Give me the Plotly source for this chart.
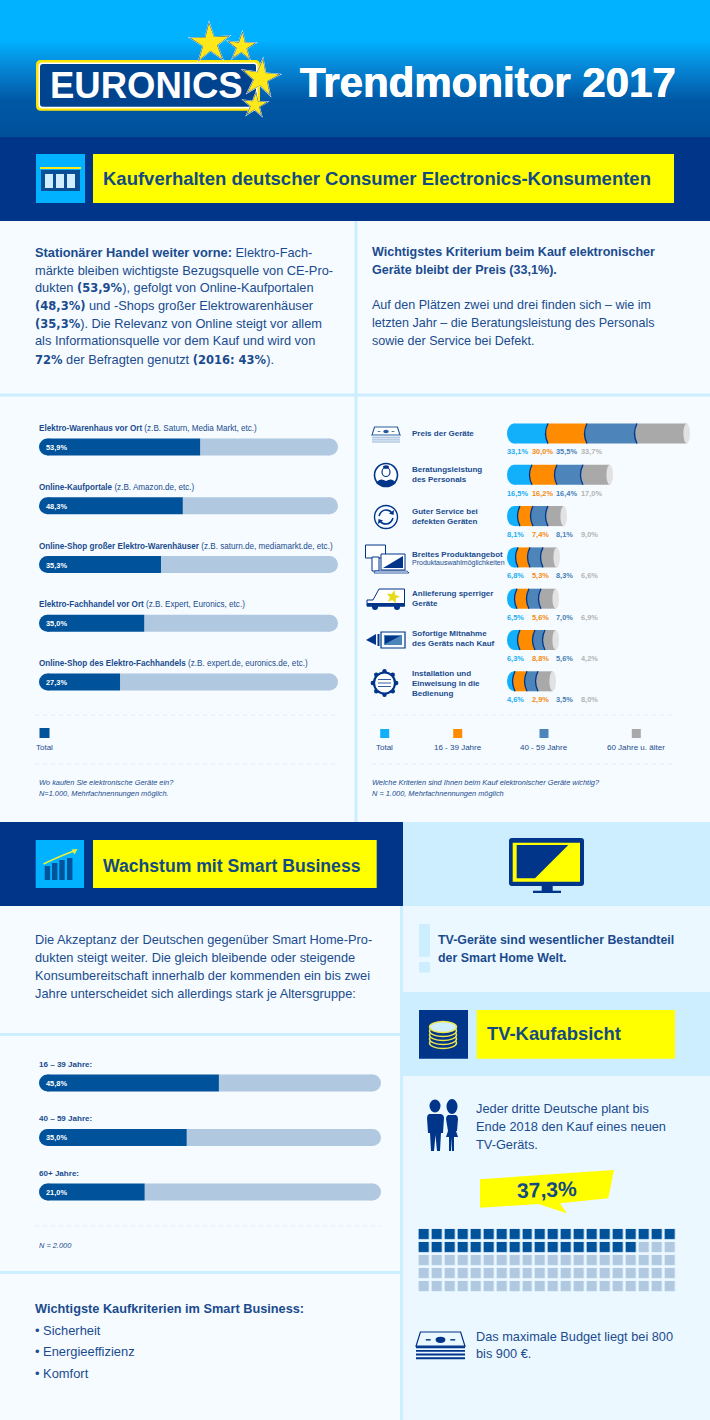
import numpy as np
import plotly.graph_objects as go

# --- dati ---
shop_labels = ["Elektro-Warenhaus vor Ort", "Online-Kaufportale", "Online-Shop großer Elektro-Warenhäuser",
               "Elektro-Fachhandel vor Ort", "Online-Shop des Elektro-Fachhandels"]
shop_notes = ["(z.B. Saturn, Media Markt, etc.)", "(z.B. Amazon.de, etc.)", "(z.B. saturn.de, mediamarkt.de, etc.)",
              "(z.B. Expert, Euronics, etc.)", "(z.B. expert.de, euronics.de, etc.)"]
shop_values = [53.9, 48.3, 35.3, 35.0, 27.3]
# lunghezza disegnata in % della barra (nell'originale non sempre uguale al valore stampato)
shop_drawn = [53.9, 48.1, 40.8, 35.2, 27.1]

crit_total = [33.1, 16.5, 8.1, 6.8, 6.5, 6.3, 4.6]
crit_young = [30.0, 16.2, 7.4, 5.3, 5.6, 8.8, 2.9]
crit_mid = [35.5, 16.4, 8.1, 8.3, 7.0, 5.6, 3.5]
crit_old = [33.7, 17.0, 9.0, 6.6, 6.9, 4.2, 8.0]
# lunghezze disegnate dei segmenti
drawn_total = [41, 25, 13, 11, 10, 13, 8]
drawn_young = [39, 25, 13, 12, 12, 15, 12]
drawn_mid = [50, 26, 15, 13, 12, 10, 11]
drawn_old = [53, 30, 19, 17, 18, 14, 18]
age_legend = ["Total", "16 - 39 Jahre", "40 - 59 Jahre", "60 Jahre u. älter"]

smart_labels = ["16 – 39 Jahre:", "40 – 59 Jahre:", "60+ Jahre:"]
smart_values = [45.8, 35.0, 21.0]
smart_drawn = [52.6, 43.2, 30.9]

waffle_filled = 37
waffle_rows = 5
waffle_cols = 20

# --- colori ---
NAVY = "#00358a"
DEEP = "#00529b"
PALE = "#b0c8e0"
CYAN = "#00b2ff"
YELLOW = "#ffff00"
BODY = "#f5fbff"
LIGHT = "#cceeff"
SOFT = "#ebf8ff"
TEXT = "#1b4b8e"
TITLE = "#134a82"
SEG = ["#12b0fb", "#ff8c00", "#4d85bb", "#a9a9a9"]
SEG_TXT = ["#22aef5", "#f58a10", "#4a7fb5", "#b4b4b4"]
SANS = "Liberation Sans"

shapes = []
notes = []


def rect(x0, y0, x1, y1, fill, layer="below"):
    shapes.append(dict(type="rect", xref="x", yref="y", x0=x0, y0=y0, x1=x1, y1=y1,
                       fillcolor=fill, line_width=0, layer=layer))


def path(d, fill=None, line=None, lw=1):
    shapes.append(dict(type="path", xref="x", yref="y", path=d, layer="below",
                       fillcolor=fill if fill else "rgba(0,0,0,0)",
                       line=dict(color=line if line else "rgba(0,0,0,0)", width=lw if line else 0)))


def ellipse(cx, cy, rx, ry, fill=None, line=None, lw=1):
    shapes.append(dict(type="circle", xref="x", yref="y", x0=cx - rx, x1=cx + rx, y0=cy - ry, y1=cy + ry,
                       layer="below", fillcolor=fill if fill else "rgba(0,0,0,0)",
                       line=dict(color=line if line else "rgba(0,0,0,0)", width=lw if line else 0)))


def dash(x0, x1, y):
    shapes.append(dict(type="line", xref="x", yref="y", x0=x0, x1=x1, y0=y, y1=y, layer="below",
                       line=dict(color="#dfeef6", width=1, dash="4px,4px")))


def txt(x, y, s, size=12.8, color=TEXT, anchor="left", font=SANS, angle=0, shadow=None):
    # le annotazioni a sinistra cadono circa 1px oltre la x chiesta
    f = dict(family=font, size=size, color=color)
    if shadow:
        f["shadow"] = shadow
    notes.append(dict(xref="x", yref="y", x=x - 1 if anchor == "left" else x, y=y, text=s, showarrow=False,
                      xanchor=anchor, yanchor="middle", borderpad=0, textangle=angle, font=f))


def star(cx, cy, r, fill, rot=0.0, inner=0.36):
    pts = []
    for k in range(10):
        a = -np.pi / 2 + rot + k * np.pi / 5
        rr = r if k % 2 == 0 else r * inner
        pts.append(f"{cx + rr * np.cos(a):.1f},{cy + rr * np.sin(a):.1f}")
    path("M" + " L".join(pts) + " Z", fill=fill)


def money(x, y, w, top_fill, stack, line):
    # banconote: trapezio sopra, righe sotto
    h = w * 0.29
    path(f"M{x + w * .09},{y} L{x + w * .91},{y} L{x + w},{y + h} L{x},{y + h} Z", fill=top_fill, line=line, lw=1.2)
    ellipse(x + w / 2, y + h * .55, w * .1, h * .22, fill=line)
    rect(x + w * .2, y + h * .5, x + w * .3, y + h * .6, line)
    rect(x + w * .7, y + h * .5, x + w * .8, y + h * .6, line)
    for k in range(4):
        rect(x, y + h + k * w * .075, x + w, y + h + k * w * .075 + w * .04, stack)


# --- sfondi ---
stops_y = [0, 40, 62, 100, 137]
stops_c = [(0, 178, 255), (0, 178, 255), (6, 142, 222), (0, 88, 165), (0, 80, 155)]
for yy in range(0, 137):
    c = [np.interp(yy, stops_y, [s[i] for s in stops_c]) for i in range(3)]
    rect(0, yy, 710, yy + 1.5, f"rgb({c[0]:.0f},{c[1]:.0f},{c[2]:.0f})")
rect(0, 137, 710, 221, NAVY)
rect(0, 221, 710, 822, BODY)
rect(354.5, 221, 357.5, 822, LIGHT)
rect(0, 393.5, 710, 396.5, LIGHT)
rect(0, 822, 403, 906, NAVY)
rect(403, 822, 710, 906, LIGHT)
rect(0, 906, 400, 1420, BODY)
rect(400, 906, 403, 1420, LIGHT)
rect(403, 906, 710, 992, SOFT)
rect(403, 992, 710, 1076, LIGHT)
rect(403, 1076, 710, 1420, SOFT)
rect(0, 1033, 400, 1036, LIGHT)
rect(0, 1271, 400, 1274, LIGHT)

# --- logo ---
path("M41,60 L255,60 Q260,60 260,65 L260,105.7 Q260,110.7 255,110.7 L41,110.7 Q36,110.7 36,105.7 L36,65 Q36,60 41,60 Z", fill="#ffe600")
path("M42,62.5 L254,62.5 Q257.5,62.5 257.5,66 L257.5,105 Q257.5,108.5 254,108.5 L42,108.5 Q38.5,108.5 38.5,105 L38.5,66 Q38.5,62.5 42,62.5 Z", fill="#ffffff")
path("M43,64 L254,64 Q256,64 256,66 L256,104.7 Q256,106.7 254,106.7 L43,106.7 Q40,106.7 40,104 L40,67 Q40,64 43,64 Z", fill="#00448f")
txt(146.5, 85, "<b>EURONICS</b>", 36.5, "#ffffff", "center")
for cx, cy, r, rot in [(210, 43.3, 23, -0.05), (241.7, 46.7, 17, 0.05), (260.7, 78.3, 22, 0.12), (255, 105, 15, 0.08)]:
    star(cx, cy, r, "#ffffff", rot, .36)
    star(cx, cy, r - 1.5, "#0a3f86", rot, .36)
    star(cx, cy, r - 3, "#ffe81a", rot, .37)
txt(300, 82, "<b>Trendmonitor 2017</b>", 42, "#ffffff", shadow="0.4px 0 0 #fff,-0.4px 0 0 #fff")

# --- sezione 1 ---
rect(36, 154, 85, 203, CYAN)
rect(40, 167, 81, 169, "#ffe81a")
rect(41, 170, 80, 191, "#0a4f96")
for xx in (45, 56, 67):
    rect(xx, 174, xx + 8, 188, "#cfeeff")
rect(93, 154, 674, 203, YELLOW)
txt(103, 178, "<b>Kaufverhalten deutscher Consumer Electronics-Konsumenten</b>", 18.5, TITLE)

big = "<span style=\"font-family:'DejaVu Sans';font-weight:bold;font-size:11.5px\">%s</span>"
left_lines = [
    "<b>Stationärer Handel weiter vorne:</b> Elektro-Fach-",
    "märkte bleiben wichtigste Bezugsquelle von CE-Pro-",
    "dukten " + big % "(53,9%" + "), gefolgt von Online-Kaufportalen",
    big % "(48,3%)" + " und -Shops großer Elektrowarenhäuser",
    big % "(35,3%" + "). Die Relevanz von Online steigt vor allem",
    "als Informationsquelle vor dem Kauf und wird von",
    big % "72%" + " der Befragten genutzt " + big % "(2016: 43%" + ").",
]
for yy, line in zip([252.3, 270, 287.7, 305.7, 323.3, 340.7, 359], left_lines):
    txt(35, yy, line, 12.8)
right_lines = [
    (252.3, "<b>Wichtigstes Kriterium beim Kauf elektronischer</b>"),
    (270, "<b>Geräte bleibt der Preis (33,1%).</b>"),
    (305, "Auf den Plätzen zwei und drei finden sich – wie im"),
    (323, "letzten Jahr – die Beratungsleistung des Personals"),
    (340.7, "sowie der Service bei Defekt."),
]
for yy, line in right_lines:
    txt(372, yy, line, 12.55)

# grafico acquisti: etichette
shop_rows = [447, 506, 565, 623.5, 682]
for yy, lab, note, v in zip(shop_rows, shop_labels, shop_notes, shop_values):
    txt(39, yy - 19, f"<b>{lab}</b> {note}", 8.15)
    txt(45.5, yy, f"<b>{v:.1f}%</b>".replace(".", ","), 7.4, "#ffffff")
dash(35, 338, 715)
dash(35, 338, 764)
rect(39.5, 728, 49.5, 738, DEEP)
txt(44.5, 747.5, "Total", 8, TEXT, "center")
txt(39, 782.5, "<i>Wo kaufen Sie elektronische Geräte ein?</i>", 7.4)
txt(39, 793, "<i>N=1.000, Mehrfachnennungen möglich.</i>", 7.4)

# grafico criteri: etichette
crit_rows = [433.5, 475, 516, 557.7, 599, 640.7, 681.3]
crit_text = [
    (433.3, "Preis der Geräte"), (469.7, "Beratungsleistung"), (479.5, "des Personals"),
    (511, "Guter Service bei"), (521, "defekten Geräten"), (554.3, "Breites Produktangebot"),
    (593.7, "Anlieferung sperriger"), (603.3, "Geräte"), (633.7, "Sofortige Mitnahme"),
    (643.7, "des Geräts nach Kauf"), (673.7, "Installation und"), (683.5, "Einweisung in die"),
    (693.5, "Bedienung"),
]
for yy, line in crit_text:
    txt(411.5, yy, f"<b>{line}</b>", 8)
txt(411.5, 563, "Produktauswahlmöglichkeiten", 7)
pct_x = [506.7, 531.7, 555.7, 580.7]
crit_series = [crit_total, crit_young, crit_mid, crit_old]
for series, xx, col in zip(crit_series, pct_x, SEG_TXT):
    for yy, v in zip(crit_rows, series):
        txt(xx, yy + 18, f"<b>{v:.1f}%</b>".replace(".", ","), 7.4, col)
dash(372, 674, 715)
dash(372, 674, 764)
for cx, lab, col in zip([384.7, 457.7, 544, 636.3], age_legend, SEG):
    rect(cx - 4.5, 729, cx + 4.5, 738, col)
    txt(cx, 747.5, lab, 8, TEXT, "center")
txt(372, 782.5, "<i>Welche Kriterien sind Ihnen beim Kauf elektronischer Geräte wichtig?</i>", 7.4)
txt(372, 793, "<i>N = 1.000, Mehrfachnennungen möglich</i>", 7.4)

# icone criteri
money(372, 427, 28, "#ffffff", "#9db9d8", "#2a5c9c")
ellipse(386, 475, 11.5, 11.5, fill="#ffffff", line=NAVY, lw=1.6)
ellipse(386, 472, 4, 4.5, fill="#ffffff", line=NAVY, lw=1.2)
ellipse(386, 467, 3, 1.8, fill=NAVY)
path("M376,483 Q380,477 386,481 Q392,477 396,483 Q392,486.5 386,486.5 Q380,486.5 376,483 Z", fill=NAVY)
ellipse(386, 517, 11.5, 11.5, line=NAVY, lw=1.4)
path("M379,516 Q381,510 386,510 Q390,510 392,513", line=NAVY, lw=1.6)
path("M393,518 Q391,524 386,524 Q382,524 380,521", line=NAVY, lw=1.6)
path("M394,510 L393.5,515 L389,513.5 Z", fill=NAVY)
path("M378,524 L378.5,519 L383,520.5 Z", fill=NAVY)
rect(366, 545, 386, 558, "#ffffff")
path("M365.5,545 L385.5,545 L385.5,558 L365.5,558 Z", line=NAVY, lw=1)
path("M372,557 L379,557 L379,571 L372,571 Z", fill="#ffffff", line=NAVY, lw=1)
path("M381,554 L405,554 L405,570 L381,570 Z", fill="#ffffff", line=NAVY, lw=1)
path("M383,568 L403,556 L403,568 Z", fill=NAVY)
path("M375,571 L407,571 L409,573 L374,573 Z", fill="#ffffff", line=NAVY, lw=.8)
path("M367,600 L373,600 L379,589 L404.5,589 L404.5,606 L367,606 Z", fill="#ffffff", line=NAVY, lw=1)
rect(367, 603, 405, 606.5, NAVY)
ellipse(375, 607, 3, 3, fill=NAVY)
ellipse(397, 607, 3, 3, fill=NAVY)
star(393, 597, 7, "#e6dc1e", .2, .45)
path("M366,640 L376,634 L376,645 Z", fill=NAVY)
rect(377.5, 634, 379.5, 646, NAVY)
path("M381,632 L405,632 L405,648 L381,648 Z", line=NAVY, lw=1.2)
path("M384,635 L402,635 L402,645 L384,645 Z", fill=SEG[2])
path("M385,644 L400,636 L385,636 Z", fill=NAVY)
for k in range(8):
    a = k * np.pi / 4
    ellipse(384.5 + 11.7 * np.cos(a), 683 + 11.7 * np.sin(a), 2.2, 2.2, fill=NAVY)
ellipse(384.5, 683, 10.5, 10.5, fill="#ffffff", line=NAVY, lw=2.2)
for yy in (679.5, 683, 686.5):
    rect(378, yy - .4, 391, yy + .4, NAVY)

# --- sezione 2 ---
rect(35.7, 840, 84, 888, CYAN)
for x0, top in [(44.7, 866), (52, 863), (59.3, 860), (67, 858)]:
    rect(x0, top, x0 + 5.4, 880, DEEP)
path("M43.5,864 Q60,856 74,851", line="#e6f03c", lw=1.6)
path("M77.5,849 L71.5,849.5 L74.5,854.5 Z", fill="#e6f03c")
rect(93, 840, 376.7, 888, YELLOW)
txt(103, 866, "<b>Wachstum mit Smart Business</b>", 17.6, TITLE)
for yy, line in zip([939, 957, 975, 993], [
    "Die Akzeptanz der Deutschen gegenüber Smart Home-Pro-",
    "dukten steigt weiter. Die gleich bleibende oder steigende",
    "Konsumbereitschaft innerhalb der kommenden ein bis zwei",
    "Jahre unterscheidet sich allerdings stark je Altersgruppe:",
]):
    txt(35, yy, line, 12.8)
smart_rows = [1083, 1137.7, 1192]
for yy, lab, v in zip(smart_rows, smart_labels, smart_values):
    txt(39, yy - 19, f"<b>{lab}</b>", 8.05)
    txt(45.5, yy, f"<b>{v:.1f}%</b>".replace(".", ","), 7.4, "#ffffff")
dash(35, 381, 1226)
txt(39, 1245, "<i>N = 2.000</i>", 7.4)
txt(35, 1308, "<b>Wichtigste Kaufkriterien im Smart Business:</b>", 12.75)
for yy, line in zip([1330, 1351, 1373], ["• Sicherheit", "• Energieeffizienz", "• Komfort"]):
    txt(35, yy, line, 12.9)

# TV
path("M512,838 L581,838 Q584,838 584,841 L584,883 Q584,886 581,886 L512,886 Q509,886 509,883 L509,841 Q509,838 512,838 Z", fill=NAVY)
rect(512.7, 842.7, 580, 881.7, YELLOW)
path("M516.7,845 L568.3,845 L535,878.3 L516.7,878.3 Z", fill=NAVY)
rect(541.7, 886, 552.7, 891, NAVY)
rect(533, 890.7, 561, 893, NAVY)
rect(419, 924, 430, 956.7, LIGHT)
rect(419, 962, 430, 972.5, LIGHT)
txt(438, 940, "<b>TV-Geräte sind wesentlicher Bestandteil</b>", 12.4)
txt(438, 957.7, "<b>der Smart Home Welt.</b>", 12.4)

# --- sezione 3 ---
rect(419, 1010, 468, 1058.7, NAVY)
for yy in (1043, 1039, 1035, 1031):
    ellipse(443, yy, 13.5, 5.5, fill=NAVY, line="#f0e64a", lw=1.5)
ellipse(443, 1027, 13.5, 5.5, fill="#cfeeff", line="#f0e64a", lw=1.5)
rect(476.7, 1010, 675, 1058.7, YELLOW)
txt(486.7, 1033, "<b>TV-Kaufabsicht</b>", 18.4, TITLE)

# persone
ellipse(435, 1106, 5.5, 6.5, fill=NAVY)
path("M429,1114 L441,1114 Q444,1115 444,1118 L443,1133 L441,1133 L440,1151 L437,1151 L435.5,1135 L434,1151 L431,1151 L430,1133 L428,1133 L427,1118 Q427,1115 429,1114 Z", fill=NAVY)
ellipse(452, 1106.5, 5.5, 7.5, fill=NAVY)
path("M448,1115 L456,1115 Q458,1116 458,1119 L457,1131 L456,1131 L458,1137 L454,1137 L454,1151 L452,1151 L451.5,1138 L451,1151 L449,1151 L449,1137 L446,1137 L448,1131 L446,1119 Q446,1116 448,1115 Z", fill=NAVY)
for yy, line in zip([1108, 1126.4, 1144.6], ["Jeder dritte Deutsche plant bis", "Ende 2018 den Kauf eines neuen", "TV-Geräts."]):
    txt(476, yy, line, 12.8)
path("M480,1179.3 L614,1170 L608.3,1198.3 L560,1203.3 L566.7,1213.3 L538.3,1204 L480,1207.7 Z", fill=YELLOW)
txt(546.7, 1189, "<b>37,3%</b>", 21, TITLE, "center", angle=-2)
money(416, 1332, 49, SOFT, NAVY, NAVY)
txt(476, 1336, "Das maximale Budget liegt bei 800", 12.75)
txt(476, 1353, "bis 900 €.", 12.75)


# --- tracce ---
def bar(rows, base, length, color, xa, ya, height):
    return go.Bar(y=rows, x=length, base=base, orientation="h", width=height, xaxis=xa, yaxis=ya, opacity=1,
                  marker=dict(color=color, line_width=0), hoverinfo="skip", showlegend=False)


def round_end(rows, at, color, xa, ya, px):
    # estremo tondo: un cerchio grande quanto l'altezza della barra
    return go.Scatter(y=rows, x=at, mode="markers", xaxis=xa, yaxis=ya, showlegend=False, hoverinfo="skip",
                      marker=dict(symbol="circle", size=px, color=color, line_width=0), cliponaxis=False)


def pct_bars(values, xa, ya, height, r):
    # r = raggio in unita' dell'asse, i cerchi stanno dentro la scala 0-100
    vals = np.array(values, dtype=float)
    rows = list(range(len(vals)))
    n = len(vals)
    return [
        bar(rows, vals, 100 - r - vals, PALE, xa, ya, height),
        bar(rows, [r] * n, vals - r, DEEP, xa, ya, height),
        round_end(rows, [100 - r] * n, PALE, xa, ya, 17),
        round_end(rows, [r] * n, DEEP, xa, ya, 17),
    ]


traces = [go.Scatter(x=[], y=[], xaxis="x", yaxis="y", showlegend=False, hoverinfo="skip")]
traces += pct_bars(shop_drawn, "x2", "y2", 17 / 58.8, 8.5 / 299 * 100)

CAP = 3.3
END_R = 7
rows = list(range(len(drawn_total)))
seg = np.array([drawn_total, drawn_young, drawn_mid, drawn_old], dtype=float)
ends = seg.cumsum(axis=0)
bar_h = 20 / 41.3
traces.append(bar(rows, [END_R] * len(rows), seg[0] - END_R, SEG[0], "x3", "y3", bar_h))
for k in (1, 2, 3):
    lens = seg[k] - (CAP if k == 3 else 0)
    traces.append(bar(rows, ends[k - 1], lens, SEG[k], "x3", "y3", bar_h))
for r in rows:
    # estremo sinistro ellittico, sotto le barre
    shapes.append(dict(type="circle", xref="x3", yref="y3", xsizemode="pixel", ysizemode="pixel",
                       xanchor=END_R, yanchor=r, x0=-END_R, x1=END_R, y0=-10, y1=10,
                       fillcolor=SEG[0], line_width=0, layer="below"))
    shapes.append(dict(type="circle", xref="x3", yref="y3", xsizemode="pixel", ysizemode="pixel",
                       xanchor=float(ends[3][r] - CAP), yanchor=r, x0=-CAP, x1=CAP, y0=-10, y1=10,
                       fillcolor="#e2e2e2", line_width=0, layer="above"))
    for k in (0, 1, 2):
        common = dict(type="path", xref="x3", yref="y3", xsizemode="pixel", ysizemode="pixel",
                      xanchor=float(ends[k][r]), yanchor=r, layer="above")
        shapes.append(dict(common, path="M0,-10 Q-5,0 0,10 Z", fillcolor=SEG[k + 1], line_width=0))
        shapes.append(dict(common, path="M0,-10 Q-5,0 0,10", line=dict(color=NAVY, width=1.3)))

traces += pct_bars(smart_drawn, "x4", "y4", 17 / 54.5, 8.5 / 342 * 100)

waffle = [[1 if r * waffle_cols + c < waffle_filled else 0 for c in range(waffle_cols)] for r in range(waffle_rows)]
traces.append(go.Heatmap(z=waffle, xaxis="x5", yaxis="y5", colorscale=[[0, PALE], [1, DEEP]], zmin=0, zmax=1,
                         xgap=2.8, ygap=2.8, showscale=False, hoverinfo="skip"))

fig = go.Figure(traces)


def dx(a, b):
    return [a / 710, b / 710]


def dy(top, bottom):
    return [1 - bottom / 1420, 1 - top / 1420]


hidden = dict(visible=False, fixedrange=True)
fig.update_layout(
    width=710, height=1420, margin=dict(l=0, r=0, t=0, b=0), paper_bgcolor=BODY, plot_bgcolor="rgba(0,0,0,0)",
    barmode="overlay", showlegend=False, font=dict(family=SANS, color=TEXT),
    shapes=shapes, annotations=notes,
    xaxis=dict(hidden, domain=[0, 1], range=[0, 710]),
    yaxis=dict(hidden, domain=[0, 1], range=[1420, 0], anchor="x"),
    xaxis2=dict(hidden, domain=dx(39, 338), range=[0, 100], anchor="y2"),
    yaxis2=dict(hidden, domain=dy(417.6, 711.4), range=[4.5, -0.5], anchor="x2"),
    xaxis3=dict(hidden, domain=dx(507, 697), range=[0, 190], anchor="y3"),
    yaxis3=dict(hidden, domain=dy(412.85, 701.95), range=[6.5, -0.5], anchor="x3"),
    xaxis4=dict(hidden, domain=dx(39, 381), range=[0, 100], anchor="y4"),
    yaxis4=dict(hidden, domain=dy(1055.75, 1219.25), range=[2.5, -0.5], anchor="x4"),
    xaxis5=dict(hidden, domain=dx(417.6, 676.4), anchor="y5"),
    yaxis5=dict(hidden, domain=dy(1227.9, 1292.4), autorange="reversed", anchor="x5"),
)

fig.write_html("out.html", config=dict(displayModeBar=False), post_script="document.body.style.margin='0';")
